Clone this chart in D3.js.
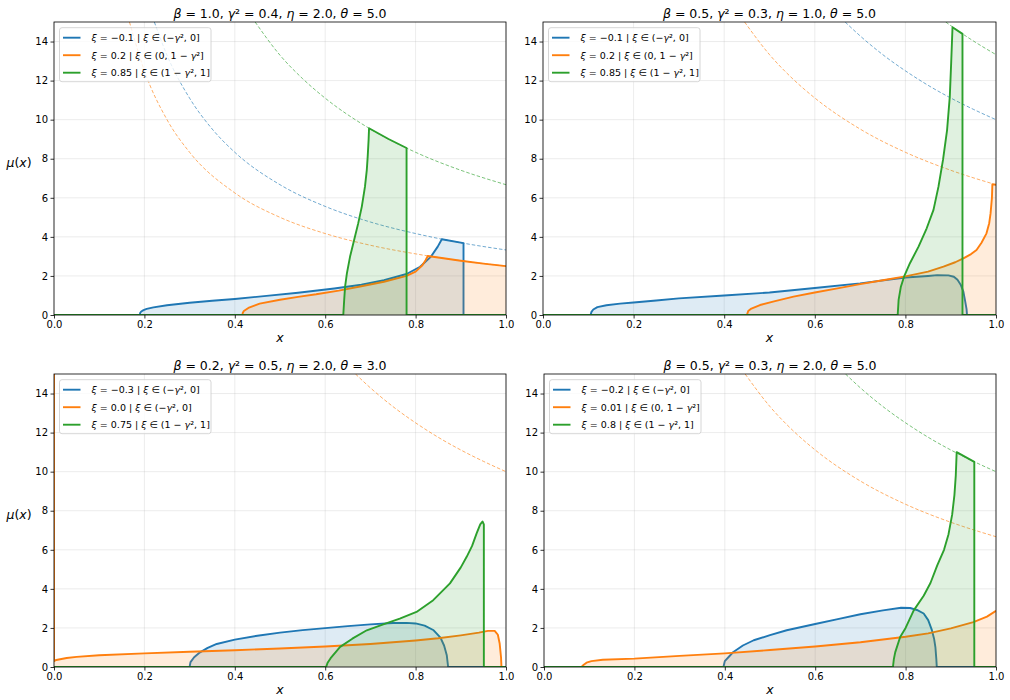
<!DOCTYPE html>
<html>
<head>
<meta charset="utf-8">
<script src="https://cdn.jsdelivr.net/npm/d3@7"></script>
<style>
  body { margin: 0; background: #fff; }
  svg { font-family: "DejaVu Sans", sans-serif; }
</style>
</head>
<body>
<div id="chart"></div>
<script>
// ---- data (x, mu(x)) ----
const colors = ["#1f77b4", "#ff7f0e", "#2ca02c"];
const yTicks = [0, 2, 4, 6, 8, 10, 12, 14];
const xTicks = [0, 0.2, 0.4, 0.6, 0.8, 1.0];

const titles = [
  "β = 1.0, γ² = 0.4, η = 2.0, θ = 5.0",
  "β = 0.5, γ² = 0.3, η = 1.0, θ = 5.0",
  "β = 0.2, γ² = 0.5, η = 2.0, θ = 3.0",
  "β = 0.5, γ² = 0.3, η = 2.0, θ = 5.0"
];

const legends = [
  ["ξ = −0.1 | ξ ∈ (−γ², 0]", "ξ = 0.2 | ξ ∈ (0, 1 − γ²]", "ξ = 0.85 | ξ ∈ (1 − γ², 1]"],
  ["ξ = −0.1 | ξ ∈ (−γ², 0]", "ξ = 0.2 | ξ ∈ (0, 1 − γ²]", "ξ = 0.85 | ξ ∈ (1 − γ², 1]"],
  ["ξ = −0.3 | ξ ∈ (−γ², 0]", "ξ = 0.0 | ξ ∈ (−γ², 0]", "ξ = 0.75 | ξ ∈ (1 − γ², 1]"],
  ["ξ = −0.2 | ξ ∈ (−γ², 0]", "ξ = 0.01 | ξ ∈ (0, 1 − γ²]", "ξ = 0.8 | ξ ∈ (1 − γ², 1]"]
];

// panel 1
const p1Blue = [[0,0],[0.19,0],[0.1905,0.1],[0.193,0.18],[0.198,0.25],[0.205,0.31],[0.22,0.39],[0.25,0.5],[0.3,0.63],[0.35,0.73],[0.4,0.82],[0.47,0.98],[0.54,1.14],[0.62,1.36],[0.68,1.55],[0.73,1.78],[0.78,2.1],[0.81,2.47],[0.834,2.99],[0.849,3.5],[0.858,3.88],[0.906,3.68],[0.906,0],[1,0]];
const p1Orange = [[0,0],[0.417,0],[0.4175,0.1],[0.42,0.2],[0.43,0.36],[0.455,0.58],[0.5,0.78],[0.54,0.93],[0.58,1.06],[0.63,1.25],[0.68,1.47],[0.73,1.7],[0.78,2.0],[0.80,2.22],[0.815,2.55],[0.822,2.8],[0.827,3.02],[0.9,2.78],[0.95,2.63],[1.0,2.5]];
const p1Green = [[0,0],[0.640,0],[0.642,0.77],[0.644,1.45],[0.648,2.13],[0.655,2.99],[0.664,3.84],[0.673,4.69],[0.681,5.55],[0.688,6.57],[0.692,7.42],[0.694,8.11],[0.696,8.96],[0.697,9.56],[0.74,9.01],[0.78,8.55],[0.78,0],[1,0]];
const p1BlueBound = [[0.222,15],[0.25,13.3],[0.3,11.1],[0.35,9.52],[0.4,8.33],[0.5,6.67],[0.6,5.56],[0.7,4.76],[0.8,4.17],[0.9,3.7],[1,3.33]];
const p1OrangeBound = [[0.167,15],[0.2,12.5],[0.25,10],[0.3,8.33],[0.4,6.25],[0.5,5],[0.6,4.17],[0.7,3.57],[0.8,3.13],[0.9,2.78],[1,2.5]];
const p1GreenBound = [[0.445,15],[0.5,13.3],[0.55,12.1],[0.6,11.1],[0.7,9.52],[0.8,8.33],[0.9,7.41],[1,6.67]];

// panel 2
const p2Blue = [[0,0],[0.105,0],[0.107,0.16],[0.111,0.28],[0.12,0.4],[0.14,0.5],[0.17,0.58],[0.2,0.64],[0.25,0.74],[0.3,0.85],[0.4,1.0],[0.5,1.15],[0.6,1.38],[0.7,1.62],[0.8,1.92],[0.85,2.0],[0.87,2.04],[0.895,2.03],[0.907,1.96],[0.915,1.8],[0.922,1.55],[0.928,1.2],[0.932,0.7],[0.935,0.3],[0.936,0],[1,0]];
const p2Orange = [[0,0],[0.45,0],[0.453,0.2],[0.46,0.33],[0.479,0.51],[0.51,0.7],[0.553,0.94],[0.6,1.15],[0.65,1.36],[0.7,1.58],[0.75,1.78],[0.8,1.98],[0.85,2.22],[0.884,2.48],[0.91,2.7],[0.928,2.9],[0.945,3.12],[0.957,3.33],[0.968,3.7],[0.979,4.18],[0.985,4.7],[0.988,5.2],[0.991,6.0],[0.992,6.69],[1.0,6.67]];
const p2Green = [[0,0],[0.783,0],[0.785,0.77],[0.79,1.45],[0.797,1.96],[0.81,2.65],[0.829,3.5],[0.847,4.44],[0.862,5.38],[0.873,6.57],[0.883,7.94],[0.892,9.47],[0.898,11.18],[0.901,12.89],[0.904,14.73],[0.926,14.39],[0.926,0],[1,0]];
const p2BlueBound = [[0.667,15],[0.7,14.29],[0.75,13.33],[0.8,12.5],[0.85,11.76],[0.9,11.11],[0.95,10.53],[1,10]];
const p2OrangeBound = [[0.445,15],[0.5,13.33],[0.55,12.12],[0.6,11.11],[0.7,9.52],[0.8,8.33],[0.9,7.41],[1,6.67]];
const p2GreenBound = [[0.889,15],[0.92,14.49],[0.95,14.03],[1,13.33]];

// panel 3
const p3Blue = [[0,0],[0.30,0],[0.302,0.25],[0.31,0.5],[0.323,0.75],[0.34,0.98],[0.36,1.18],[0.4,1.4],[0.45,1.6],[0.5,1.76],[0.55,1.89],[0.6,1.99],[0.65,2.09],[0.7,2.18],[0.75,2.25],[0.78,2.26],[0.8,2.23],[0.82,2.12],[0.84,1.88],[0.855,1.5],[0.863,1.1],[0.869,0.6],[0.872,0],[1,0]];
const p3Orange = [[0,20],[0,0.3],[0.005,0.36],[0.028,0.46],[0.05,0.52],[0.1,0.6],[0.2,0.7],[0.3,0.78],[0.4,0.86],[0.5,0.95],[0.6,1.05],[0.7,1.18],[0.8,1.36],[0.85,1.47],[0.9,1.62],[0.94,1.76],[0.96,1.85],[0.975,1.85],[0.982,1.65],[0.986,1.2],[0.989,0.5],[0.99,0],[1,0]];
const p3Green = [[0,0],[0.602,0],[0.605,0.2],[0.612,0.45],[0.633,1.03],[0.66,1.45],[0.692,1.88],[0.73,2.2],[0.765,2.48],[0.802,2.82],[0.839,3.42],[0.876,4.28],[0.9,5.1],[0.913,5.64],[0.925,6.2],[0.935,6.84],[0.943,7.3],[0.948,7.45],[0.951,7.3],[0.951,0],[1,0]];
const p3OrangeBound = [[0.667,15],[0.7,14.29],[0.75,13.33],[0.8,12.5],[0.85,11.76],[0.9,11.11],[0.95,10.53],[1,10]];

// panel 4
const p4Blue = [[0,0],[0.397,0],[0.4,0.3],[0.41,0.55],[0.419,0.77],[0.44,1.1],[0.464,1.37],[0.5,1.63],[0.537,1.88],[0.6,2.2],[0.65,2.45],[0.7,2.7],[0.75,2.9],[0.79,3.03],[0.81,3.02],[0.825,2.92],[0.84,2.74],[0.85,2.4],[0.858,1.9],[0.863,1.45],[0.866,1.0],[0.868,0.4],[0.869,0],[1,0]];
const p4Orange = [[0,0],[0.083,0],[0.088,0.12],[0.094,0.22],[0.105,0.3],[0.13,0.37],[0.2,0.43],[0.3,0.57],[0.4,0.7],[0.5,0.87],[0.6,1.05],[0.7,1.27],[0.8,1.55],[0.85,1.72],[0.9,1.98],[0.95,2.3],[0.98,2.58],[1.0,2.88]];
const p4Green = [[0,0],[0.772,0],[0.774,0.4],[0.777,0.75],[0.788,1.54],[0.8,2.0],[0.818,2.9],[0.84,3.65],[0.855,4.3],[0.87,5.2],[0.885,6.0],[0.895,6.8],[0.903,7.8],[0.908,8.8],[0.911,9.8],[0.913,11.0],[0.952,10.5],[0.952,0],[1,0]];
const p4OrangeBound = [[0.445,15],[0.5,13.33],[0.55,12.12],[0.6,11.11],[0.7,9.52],[0.8,8.33],[0.9,7.41],[1,6.67]];
const p4GreenBound = [[0.667,15],[0.7,14.29],[0.75,13.33],[0.8,12.5],[0.85,11.76],[0.9,11.11],[0.95,10.53],[1,10]];

const panelSeries = [
  [p1Blue, p1Orange, p1Green],
  [p2Blue, p2Orange, p2Green],
  [p3Blue, p3Orange, p3Green],
  [p4Blue, p4Orange, p4Green]
];
const panelBounds = [
  [p1BlueBound, p1OrangeBound, p1GreenBound],
  [p2BlueBound, p2OrangeBound, p2GreenBound],
  [null, p3OrangeBound, null],
  [null, p4OrangeBound, p4GreenBound]
];

// ---- layout ----
const width = 1010, height = 700;
const boxes = [
  { left: 54, right: 506, top: 22, bottom: 315 },
  { left: 543, right: 996, top: 22, bottom: 315 },
  { left: 54, right: 506, top: 374, bottom: 667 },
  { left: 544, right: 996, top: 374, bottom: 667 }
];

const svg = d3.select("#chart").append("svg")
  .attr("width", width).attr("height", height);

const italicChars = new Set(["ξ", "γ", "β", "η", "θ", "μ", "x"]);

// write a string, putting greek letters and x in italics like mathtext
function mathText(textSel, str) {
  let buf = "", curItalic = null;
  const flush = () => {
    if (buf) textSel.append("tspan").attr("font-style", curItalic ? "italic" : "normal").text(buf);
    buf = "";
  };
  for (const ch of str) {
    const it = italicChars.has(ch);
    if (curItalic !== null && it !== curItalic) flush();
    curItalic = it;
    buf += ch;
  }
  flush();
}

boxes.forEach((b, i) => {
  const g = svg.append("g");
  const x = d3.scaleLinear().domain([0, 1]).range([b.left, b.right]);
  const y = d3.scaleLinear().domain([0, 15]).range([b.bottom, b.top]);

  const clipId = "clip" + i;
  g.append("clipPath").attr("id", clipId)
    .append("rect")
    .attr("x", b.left).attr("y", b.top)
    .attr("width", b.right - b.left).attr("height", b.bottom - b.top);

  // grid
  g.append("g").selectAll("line").data(xTicks).join("line")
    .attr("x1", d => x(d)).attr("x2", d => x(d))
    .attr("y1", b.top).attr("y2", b.bottom)
    .attr("stroke", "#b0b0b0").attr("stroke-opacity", 0.3).attr("stroke-width", 0.8);
  g.append("g").selectAll("line").data(yTicks).join("line")
    .attr("y1", d => y(d)).attr("y2", d => y(d))
    .attr("x1", b.left).attr("x2", b.right)
    .attr("stroke", "#b0b0b0").attr("stroke-opacity", 0.3).attr("stroke-width", 0.8);

  const plot = g.append("g").attr("clip-path", `url(#${clipId})`);

  const line = d3.line().x(d => x(d[0])).y(d => y(d[1]));
  const smooth = d3.line().x(d => x(d[0])).y(d => y(d[1])).curve(d3.curveMonotoneX);
  const area = d3.area().x(d => x(d[0])).y0(y(0)).y1(d => y(d[1]));

  panelSeries[i].forEach((s, k) => {
    const bound = panelBounds[i][k];
    if (bound) {
      plot.append("path").attr("d", smooth(bound))
        .attr("fill", "none").attr("stroke", colors[k])
        .attr("stroke-width", 0.9).attr("stroke-opacity", 0.7)
        .attr("stroke-dasharray", "3.5,2");
    }
    plot.append("path").attr("d", area(s))
      .attr("fill", colors[k]).attr("fill-opacity", 0.15);
    plot.append("path").attr("d", line(s))
      .attr("fill", "none").attr("stroke", colors[k])
      .attr("stroke-width", 1.9).attr("stroke-linejoin", "round");
  });

  // axes
  const xAxis = g.append("g")
    .attr("transform", `translate(0,${b.bottom})`)
    .call(d3.axisBottom(x).tickValues(xTicks).tickFormat(d3.format(".1f")).tickSizeOuter(0).tickSize(3.5).tickPadding(2));
  const yAxis = g.append("g")
    .attr("transform", `translate(${b.left},0)`)
    .call(d3.axisLeft(y).tickValues(yTicks).tickSizeOuter(0).tickSize(3.5).tickPadding(2.5));
  [xAxis, yAxis].forEach(a => {
    a.select(".domain").remove();
    a.selectAll("line").attr("stroke", "#000").attr("stroke-width", 0.8);
    a.selectAll("text").attr("font-size", 10).attr("fill", "#000")
      .attr("font-family", "DejaVu Sans, sans-serif");
  });

  // spines
  g.append("rect")
    .attr("x", b.left).attr("y", b.top)
    .attr("width", b.right - b.left).attr("height", b.bottom - b.top)
    .attr("fill", "none").attr("stroke", "#000").attr("stroke-width", 0.8);

  // title
  const t = g.append("text")
    .attr("x", (b.left + b.right) / 2).attr("y", b.top - 4.5)
    .attr("text-anchor", "middle").attr("font-size", 12.5);
  mathText(t, titles[i]);

  // x label
  g.append("text")
    .attr("x", (b.left + b.right) / 2).attr("y", b.bottom + 26.5)
    .attr("text-anchor", "middle").attr("font-size", 12.5)
    .attr("font-style", "italic").text("x");

  // y label on left panels
  if (i % 2 === 0) {
    const yl = g.append("text")
      .attr("x", 19).attr("y", (b.top + b.bottom) / 2 - 2)
      .attr("text-anchor", "middle").attr("font-size", 12.5);
    mathText(yl, "μ(x)");
  }

  // legend
  const lg = g.append("g").attr("transform", `translate(${b.left + 5.5},${b.top + 5.7})`);
  lg.append("rect")
    .attr("width", 151.5).attr("height", 54).attr("rx", 2.5)
    .attr("fill", "#fff").attr("fill-opacity", 0.8)
    .attr("stroke", "#cccccc").attr("stroke-width", 0.8);
  legends[i].forEach((lab, k) => {
    const ry = 10 + k * 17.5;
    lg.append("line")
      .attr("x1", 3.5).attr("x2", 21).attr("y1", ry).attr("y2", ry)
      .attr("stroke", colors[k]).attr("stroke-width", 1.9);
    const tx = lg.append("text")
      .attr("x", 32).attr("y", ry + 3.5).attr("font-size", 9.5);
    mathText(tx, lab);
  });
});
</script>
</body>
</html>
